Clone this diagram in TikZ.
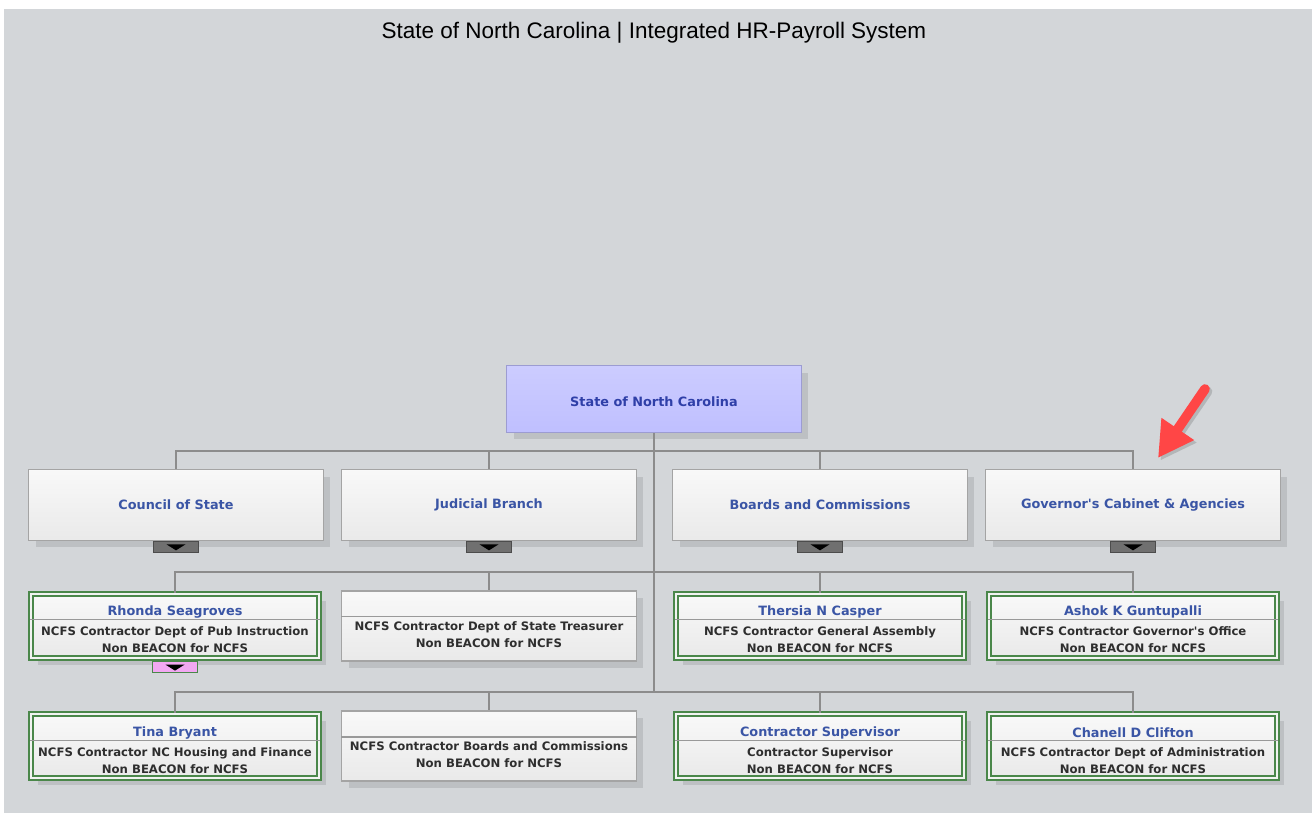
\documentclass[tikz,border=0pt]{standalone}
\usepackage{fontspec}
\setmainfont{DejaVu Sans}[Ligatures=TeXOff]
\newfontfamily\headfont{Liberation Sans}
\usepackage{tikz}
\usetikzlibrary{arrows.meta,positioning,shadows,calc}
\definecolor{pagebg}{HTML}{D3D6D9}
\definecolor{boxshade}{HTML}{BDC0C3}
\definecolor{linkgray}{HTML}{8C8C8C}
\definecolor{nameblue}{HTML}{3A55A5}
\definecolor{rootblue}{HTML}{2F3FA8}
\definecolor{roleink}{HTML}{2E2E2E}
\definecolor{rootedge}{HTML}{9C9CD2}
\definecolor{boxedge}{HTML}{A4A4A4}
\definecolor{filledgreen}{HTML}{4A874A}
\definecolor{togglegray}{HTML}{707070}
\definecolor{togglepink}{HTML}{F2A8F2}
\definecolor{pointred}{HTML}{FF4646}

\begin{document}
\begin{tikzpicture}[x=0.02cm,y=-0.02cm,
    link/.style={draw=linkgray,line width=1.5pt},
    unitbox/.style={draw=boxedge,line width=0.6pt,top color=gray!5,bottom color=gray!17,
      minimum width=5.9cm,minimum height=1.42cm,inner sep=0pt,
      drop shadow={shadow xshift=0.14cm,shadow yshift=-0.14cm,fill=boxshade,opacity=1}},
    rootbox/.style={unitbox,draw=rootedge,top color=blue!20!white,bottom color=blue!25!white,
      minimum height=1.34cm},
    seatbox/.style={unitbox,minimum height=1.4cm},
    filledbox/.style={seatbox,minimum width=5.76cm,minimum height=1.28cm,draw=filledgreen,
      double=green!8!gray!10,double distance=1.2pt,line width=0.9pt},
    divider/.style={draw=gray!80,line width=0.6pt},
    unitname/.style={font=\fontsize{7.3}{8}\bfseries,text=nameblue},
    roletext/.style={font=\fontsize{6.65}{9.6}\bfseries,text=roleink,align=center},
    toggle/.style={draw=gray!60!black,fill=togglegray,line width=0.4pt,
      minimum width=0.9cm,minimum height=0.22cm,inner sep=0pt,anchor=north},
    togglemark/.style={fill=black}]
    \path[use as bounding box] (0,0) rectangle (1312,813);
    \fill[pagebg] (4,9) rectangle (1312,813);
    \node[font=\headfont\fontsize{12.8}{14}\selectfont] (title) at (654,33)
      {State of North Carolina | Integrated HR-Payroll System};
    % root
    \node[rootbox] (root) at (654,399) {};
    \node[unitname,text=rootblue] (rootname) at ([yshift=-0.06cm]root.center) {State of North Carolina};
    % level one
    \node[unitbox] (cos) at (176,505) {};
    \node[unitname] (cosname) at (cos.center) {Council of State};
    \node[unitbox] (jud) at (489,505) {};
    \node[unitname] (judname) at (jud.center) {Judicial Branch};
    \node[unitbox] (bac) at (820,505) {};
    \node[unitname] (bacname) at (bac.center) {Boards and Commissions};
    \node[unitbox] (gca) at (1133,505) {};
    \node[unitname] (gcaname) at (gca.center) {Governor's Cabinet \& Agencies};
    \node[toggle] (costog) at (cos.south) {};
    \node[toggle] (judtog) at (jud.south) {};
    \node[toggle] (bactog) at (bac.south) {};
    \node[toggle] (gcatog) at (gca.south) {};
    % level two
    \node[filledbox] (rsea) at (175,626) {};
    \draw[divider] ([yshift=-0.53cm]rsea.north west) -- ([yshift=-0.53cm]rsea.north east);
    \node[unitname] (rseaname) at ([yshift=-0.38cm]rsea.north) {Rhonda Seagroves};
    \node[roletext] (rsearole) at ([yshift=-0.93cm]rsea.north)
      {NCFS Contractor Dept of Pub Instruction\\Non BEACON for NCFS};
    \node[toggle,draw=filledgreen,fill=togglepink] (rseatog) at ([yshift=-0.05cm]rsea.south) {};
    \node[seatbox] (tres) at (489,626) {};
    \draw[divider] ([yshift=-0.53cm]tres.north west) -- ([yshift=-0.53cm]tres.north east);
    \node[roletext] (tresrole) at ([yshift=-0.89cm]tres.north)
      {NCFS Contractor Dept of State Treasurer\\Non BEACON for NCFS};
    \node[filledbox] (tcas) at (820,626) {};
    \draw[divider] ([yshift=-0.53cm]tcas.north west) -- ([yshift=-0.53cm]tcas.north east);
    \node[unitname] (tcasname) at ([yshift=-0.38cm]tcas.north) {Thersia N Casper};
    \node[roletext] (tcasrole) at ([yshift=-0.93cm]tcas.north)
      {NCFS Contractor General Assembly\\Non BEACON for NCFS};
    \node[filledbox] (agun) at (1133,626) {};
    \draw[divider] ([yshift=-0.53cm]agun.north west) -- ([yshift=-0.53cm]agun.north east);
    \node[unitname] (agunname) at ([yshift=-0.38cm]agun.north) {Ashok K Guntupalli};
    \node[roletext] (agunrole) at ([yshift=-0.93cm]agun.north)
      {NCFS Contractor Governor's Office\\Non BEACON for NCFS};
    % level three
    \node[filledbox] (tbry) at (175,746) {};
    \draw[divider] ([yshift=-0.55cm]tbry.north west) -- ([yshift=-0.55cm]tbry.north east);
    \node[unitname] (tbryname) at ([yshift=-0.4cm]tbry.north) {Tina Bryant};
    \node[roletext] (tbryrole) at ([yshift=-0.95cm]tbry.north)
      {NCFS Contractor NC Housing and Finance\\Non BEACON for NCFS};
    \node[seatbox] (bcom) at (489,746) {};
    \draw[divider] ([yshift=-0.53cm]bcom.north west) -- ([yshift=-0.53cm]bcom.north east);
    \node[roletext] (bcomrole) at ([yshift=-0.89cm]bcom.north)
      {NCFS Contractor Boards and Commissions\\Non BEACON for NCFS};
    \node[filledbox] (csup) at (820,746) {};
    \draw[divider] ([yshift=-0.55cm]csup.north west) -- ([yshift=-0.55cm]csup.north east);
    \node[unitname] (csupname) at ([yshift=-0.4cm]csup.north) {Contractor Supervisor};
    \node[roletext] (csuprole) at ([yshift=-0.95cm]csup.north)
      {Contractor Supervisor\\Non BEACON for NCFS};
    \node[filledbox] (ccli) at (1133,746) {};
    \draw[divider] ([yshift=-0.55cm]ccli.north west) -- ([yshift=-0.55cm]ccli.north east);
    \node[unitname] (ccliname) at ([yshift=-0.4cm]ccli.north) {Chanell D Clifton};
    \node[roletext] (ccliroel) at ([yshift=-0.95cm]ccli.north)
      {NCFS Contractor Dept of Administration\\Non BEACON for NCFS};
    % toggle marks
    \foreach \t in {costog,judtog,bactog,gcatog,rseatog}
      \fill[togglemark] ([xshift=-0.19cm,yshift=0.05cm]\t.center) -- ++(0.38cm,0)
        -- ++(-0.19cm,-0.12cm) -- cycle;
    % links
    \coordinate (bar1) at (654,451);
    \coordinate (bar2) at (654,572);
    \coordinate (bar3) at (654,692);
    \draw[link] (root.south) -- (bar3);
    \foreach \n in {cos,jud,bac,gca}
      \draw[link] (bar1) -| (\n.north);
    \foreach \n in {rsea,tres,tcas,agun}
      \draw[link] (bar2) -| (\n.north);
    \foreach \n in {tbry,bcom,csup,ccli}
      \draw[link] (bar3) -| (\n.north);
    % pointer
    \coordinate (ptail) at (1205,389);
    \coordinate (ptip) at (1158,458);
    \draw[black,opacity=0.15,line width=5.5pt,line cap=round,
      -{Triangle[length=20pt,width=21pt]}] ([shift={(0.05cm,-0.05cm)}]ptail) -- ([shift={(0.05cm,-0.05cm)}]ptip);
    \draw[pointred,line width=5.5pt,line cap=round,
      -{Triangle[length=20pt,width=21pt]}] (ptail) -- (ptip);
  \end{tikzpicture}
\end{document}
